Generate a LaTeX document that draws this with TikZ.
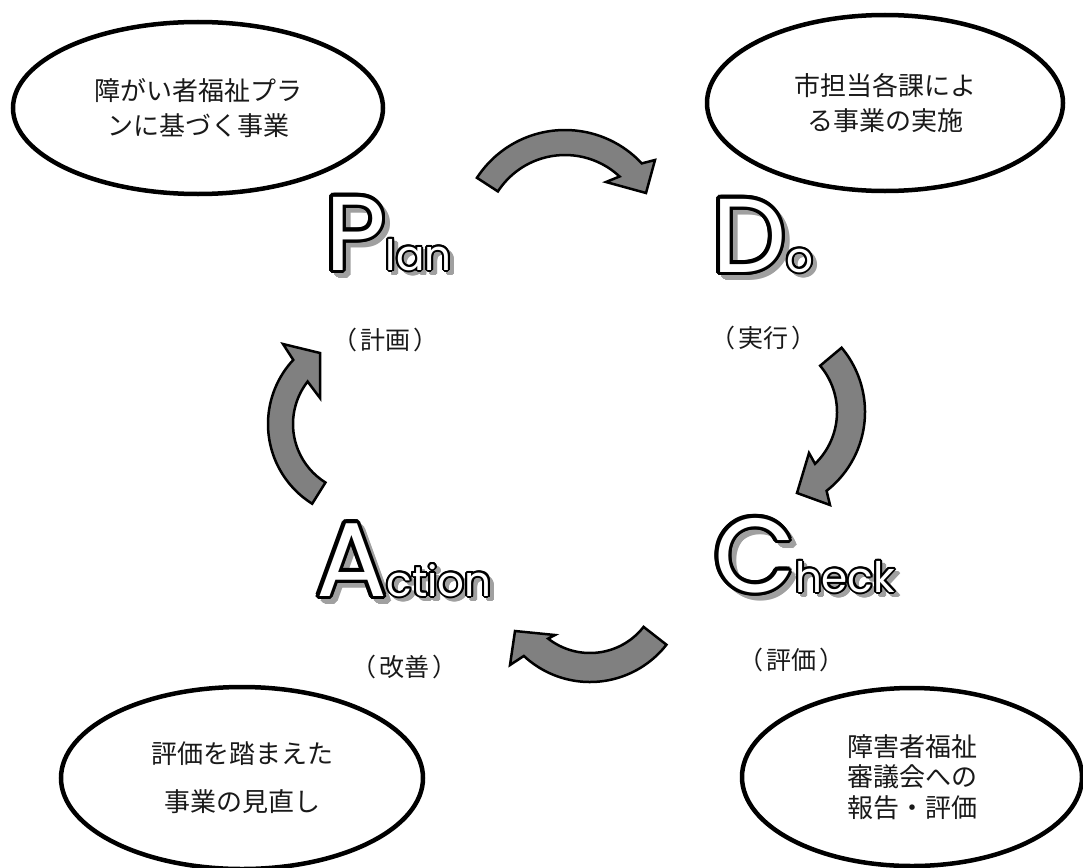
\documentclass[tikz,border=0pt]{standalone}
\usepackage{fontspec}
\newfontfamily\jp{Noto Sans CJK JP}
\newfontfamily\pop{Poppins}
\usetikzlibrary{calc,shapes.geometric}
\definecolor{arrowgray}{HTML}{808080}
\definecolor{shadowgray}{HTML}{A0A0A0}
\newlength\wP \newlength\wD \newlength\wC \newlength\wA
\newcommand\bigtext[1]{{\fontsize{105}{105}\selectfont\pop #1}}
\newcommand\smalltext[1]{{\fontsize{42}{42}\selectfont\pop #1}}
% #1 x, #2 y, #3 big letter, #4 small letters, #5 width of big letter
\newcommand\pdcaword[5]{%
  \coordinate (w0) at (#1,#2);
  \coordinate (w1) at ($(#1,#2)+(#5,0pt)$);
  \foreach \a in {0,30,...,330}{
    \node[word,text=shadowgray] at ($(w0)+(5,5)+(\a:3.2)$) {\bigtext{#3}};
    \node[word,text=shadowgray] at ($(w1)+(4,4)+(\a:1.8)$) {\smalltext{#4}};
  }
  \foreach \a in {0,22.5,...,337.5}{
    \node[word,text=black] at ($(w0)+(\a:3.6)$) {\bigtext{#3}};
    \node[word,text=black] at ($(w1)+(\a:2)$) {\smalltext{#4}};
  }
  \node[word,text=white] at (w0) {\bigtext{#3}};
  \node[word,text=white] at (w1) {\smalltext{#4}};
}
\begin{document}
\settowidth{\wP}{\bigtext{P}}%
\settowidth{\wD}{\bigtext{D}}%
\settowidth{\wC}{\bigtext{C}}%
\settowidth{\wA}{\bigtext{A}}%
\begin{tikzpicture}[x=1pt,y=-1pt,
  bubble/.style={ellipse,draw=black,line width=4.5pt,fill=white,inner sep=0pt,
    align=center,font=\jp\fontsize{26}{35}\selectfont,text=black!90},
  lbl/.style={inner sep=0pt,font=\jp\fontsize{25}{28}\selectfont,text=black!90},
  word/.style={anchor=base west,inner sep=0pt,outer sep=0pt},
  blk/.style={fill=arrowgray,draw=black,line width=2.5pt,line join=miter}]
\useasboundingbox (0,0) rectangle (1083,867);
\fill[white] (0,0) rectangle (1083,867);

% ellipses
\node[bubble,minimum width=370pt,minimum height=172pt] (plan) at (198,108)
  {障がい者福祉プラ\\ンに基づく事業};
\node[bubble,minimum width=356pt,minimum height=176pt] (do) at (885,103)
  {市担当各課によ\\る事業の実施};
\node[bubble,minimum width=362pt,minimum height=182pt,
  font=\jp\fontsize{26}{48}\selectfont] (act) at (242,778)
  {評価を踏まえた\\事業の見直し};
\node[bubble,minimum width=340pt,minimum height=178pt,
  font=\jp\fontsize{26}{30.5}\selectfont] (chk) at (912,777)
  {障害者福祉\\審議会への\\報告・評価};

% curved arrows
\draw[blk] ($(565,235)+(-147:105)$) arc[start angle=-147,end angle=-43,radius=105]
  -- (655,160) -- (646,193) -- (606,182)
  -- ($(565,235)+(-47:80)$) arc[start angle=-47,end angle=-147,radius=80] -- cycle;
\draw[blk] ($(765,412)+(-40:100)$) arc[start angle=-40,end angle=52,radius=100]
  -- (830,505) -- (797,493) -- (809,453)
  -- ($(765,412)+(46:72)$) arc[start angle=46,end angle=-40,radius=72] -- cycle;
\draw[blk] ($(590,585)+(38:97)$) arc[start angle=38,end angle=133,radius=97]
  -- (510,665) -- (515,631) -- (555,635)
  -- ($(590,585)+(128:68)$) arc[start angle=128,end angle=38,radius=68] -- cycle;
\draw[blk] ($(362,424)+(122:94)$) arc[start angle=122,end angle=223,radius=94]
  -- (283,344) -- (320,353) -- (320,398)
  -- ($(362,424)+(218:69)$) arc[start angle=218,end angle=122,radius=69] -- cycle;

% PDCA words
\pdcaword{325}{270}{P}{lan}{\wP}
\pdcaword{712}{272}{D}{o}{\wD}
\pdcaword{714}{592}{C}{heck}{\wC}
\pdcaword{316}{596}{A}{ction}{\wA}

% labels
\node[lbl] (lplan) at (385,340) {（\hspace{3pt}計画\hspace{3pt}）};
\node[lbl] (ldo) at (763,338) {（\hspace{3pt}実行\hspace{3pt}）};
\node[lbl] (lact) at (404,667) {（\hspace{3pt}改善\hspace{3pt}）};
\node[lbl] (lchk) at (791,660) {（\hspace{3pt}評価\hspace{3pt}）};
\end{tikzpicture}
\end{document}
